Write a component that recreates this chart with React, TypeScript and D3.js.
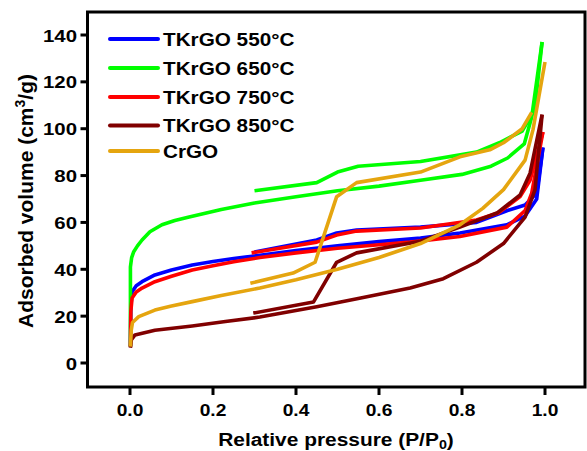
import React from "react";
import * as d3 from "d3";

type Pt = [number, number];

const xTicks = [0.0, 0.2, 0.4, 0.6, 0.8, 1.0];
const yTicks = [0, 20, 40, 60, 80, 100, 120, 140];

const seriesNames = ["TKrGO 550°C", "TKrGO 650°C", "TKrGO 750°C", "TKrGO 850°C", "CrGO"];
const seriesColors = ["#0000ff", "#00ff00", "#ff0000", "#800000", "#e5a50f"];

const tk550Ads: Pt[] = [[0.001,7],[0.002,24],[0.005,30.4],[0.015,33],[0.029,34.7],[0.06,37.6],[0.1,39.7],[0.15,41.8],[0.2,43.3],[0.25,44.6],[0.313,46],[0.4,48],[0.5,50],[0.6,51.8],[0.7,53.3],[0.795,55.5],[0.908,59],[0.952,62.7],[0.98,70],[0.995,92]];
const tk550Des: Pt[] = [[0.995,92],[0.98,72.5],[0.952,67.4],[0.908,65],[0.835,60],[0.7,58],[0.546,56.8],[0.498,55.5],[0.45,52.5],[0.3,47.4]];

const tk650Ads: Pt[] = [[0.001,7],[0.001,41],[0.004,45],[0.009,47.5],[0.018,50],[0.029,52.5],[0.048,56],[0.077,59],[0.108,60.8],[0.14,62.2],[0.22,65.5],[0.3,68.3],[0.4,71],[0.5,73.5],[0.6,75.5],[0.7,78],[0.8,80.5],[0.87,84],[0.91,87.5],[0.95,93.5],[0.968,105],[0.993,137]];
const tk650Des: Pt[] = [[0.993,137],[0.975,108],[0.945,99],[0.89,94],[0.835,90],[0.7,86],[0.55,84],[0.5,81.5],[0.45,77],[0.3,73.5]];

const tk750Ads: Pt[] = [[0.001,7],[0.002,22],[0.005,27.7],[0.015,30.3],[0.029,32],[0.06,34.7],[0.1,37],[0.15,39.7],[0.2,41.5],[0.25,43.2],[0.313,45],[0.4,47],[0.5,49],[0.6,50.5],[0.675,51.6],[0.795,54],[0.908,58],[0.952,65],[0.968,72.5],[0.995,98.6]];
const tk750Des: Pt[] = [[0.995,98.6],[0.964,78],[0.94,71],[0.887,64],[0.835,61],[0.7,57.6],[0.546,56.3],[0.498,54.6],[0.45,51.6],[0.293,47]];

const tk850Ads: Pt[] = [[0.001,6.5],[0.003,9.8],[0.012,12],[0.06,14],[0.15,15.8],[0.23,17.7],[0.313,19.6],[0.45,24],[0.55,27.5],[0.675,32],[0.755,36],[0.835,43],[0.9,51],[0.952,62.3],[0.976,74],[0.993,106]];
const tk850Des: Pt[] = [[0.993,106],[0.964,81],[0.94,71.7],[0.884,64],[0.795,58],[0.7,52],[0.546,47],[0.498,43],[0.442,26],[0.297,21.3]];

const crgoAds: Pt[] = [[0.001,7],[0.003,14],[0.006,17.3],[0.021,19.8],[0.06,22.6],[0.1,24.3],[0.15,26.2],[0.22,28.8],[0.313,32],[0.4,35.5],[0.5,40],[0.6,45],[0.7,51],[0.795,59],[0.85,66],[0.9,74],[0.952,86.6],[0.971,99.5],[1.0,128.5]];
const crgoDes: Pt[] = [[0.968,107],[0.945,100],[0.9,94],[0.867,91],[0.795,88],[0.7,81.5],[0.546,77],[0.498,71],[0.446,43],[0.393,38.4],[0.29,34]];

const seriesData: Pt[][][] = [
  [tk550Ads, tk550Des],
  [tk650Ads, tk650Des],
  [tk750Ads, tk750Des],
  [tk850Ads, tk850Des],
  [crgoAds, crgoDes],
];

const W = 587, H = 451;
const frame = { left: 87.5, right: 585, top: 12, bottom: 387 };
const FONT = "'Liberation Sans', Arial, sans-serif";

function SText({ x, y, sx = 1.1, anchor = "start", size, children }: any) {
  return (
    <g transform={`translate(${x},${y}) scale(${sx},1)`}>
      <text x={0} y={0} textAnchor={anchor} fontSize={size} fontWeight="bold" fontFamily={FONT} fill="#000">
        {children}
      </text>
    </g>
  );
}

export default function App() {
  const x = d3.scaleLinear().domain([0, 1]).range([130, 545]);
  const y = d3.scaleLinear().domain([0, 140]).range([363, 35]);
  const line = d3.line<Pt>().x(d => x(d[0])).y(d => y(d[1]));

  return (
    <svg width={W} height={H} style={{ position: "absolute", left: 0, top: 0, background: "#fff" }}>
      <rect x={0} y={0} width={W} height={H} fill="#fff" />
      {seriesData.map((branches, i) => (
        <g key={i}>
          {branches.map((b, j) => (
            <path key={j} d={line(b) || ""} fill="none" stroke={seriesColors[i]} strokeWidth={3.6} strokeLinejoin="round" strokeLinecap="butt" />
          ))}
        </g>
      ))}
      <rect x={frame.left} y={frame.top} width={frame.right - frame.left} height={frame.bottom - frame.top} fill="none" stroke="#000" strokeWidth={3} />
      {yTicks.map(t => (
        <g key={t}>
          <line x1={frame.left - 7} x2={frame.left} y1={y(t)} y2={y(t)} stroke="#000" strokeWidth={3} />
          <SText x={77} y={y(t) + 6.5} anchor="end" size={17} sx={1.2}>{t}</SText>
        </g>
      ))}
      {xTicks.map(t => (
        <g key={t}>
          <line x1={x(t)} x2={x(t)} y1={frame.bottom} y2={frame.bottom + 8} stroke="#000" strokeWidth={3} />
          <SText x={x(t)} y={416} anchor="middle" size={16} sx={1.2}>{t.toFixed(1)}</SText>
        </g>
      ))}
      <SText x={336} y={446} anchor="middle" size={19} sx={1.1}>
        Relative pressure (P/P<tspan fontSize={13} dy={3}>0</tspan><tspan dy={-3}>)</tspan>
      </SText>
      <g transform={`translate(33,201) rotate(-90)`}>
        <text x={0} y={0} textAnchor="middle" fontSize={21} fontWeight="bold" fontFamily={FONT} fill="#000">
          Adsorbed volume (cm<tspan fontSize={14} dy={-8}>3</tspan><tspan dy={8}>/g)</tspan>
        </text>
      </g>
      {seriesNames.map((n, i) => {
        const ly = [39, 68, 97, 125.5, 151][i];
        return (
          <g key={n}>
            <line x1={110} x2={158} y1={ly} y2={ly} stroke={seriesColors[i]} strokeWidth={4} strokeLinecap="round" />
            <SText x={163} y={ly + 6.5} size={18.5} sx={1.12}>{n}</SText>
          </g>
        );
      })}
    </svg>
  );
}
